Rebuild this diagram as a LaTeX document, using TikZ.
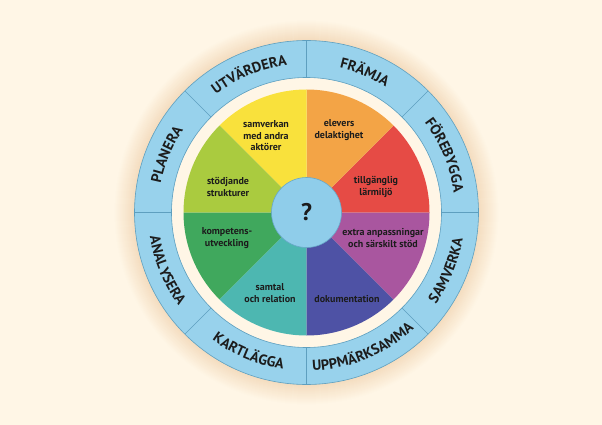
\documentclass[tikz,border=0pt]{standalone}
\usepackage{fontspec}
\setmainfont{PT Sans}
\usetikzlibrary{decorations.text}
\definecolor{bg}{HTML}{FFF6E6}
\definecolor{shadowc}{HTML}{F4DDBF}
\definecolor{ringblue}{HTML}{98D2EC}
\definecolor{ringedge}{HTML}{5E9FBF}
\definecolor{centerblue}{HTML}{8FCDEA}
\definecolor{txt}{HTML}{1C1C1C}
\definecolor{cred}{HTML}{E64B45}
\definecolor{corange}{HTML}{F3A446}
\definecolor{cyellow}{HTML}{F9E13C}
\definecolor{cygreen}{HTML}{AACB3F}
\definecolor{cgreen}{HTML}{40A85D}
\definecolor{cteal}{HTML}{4DB7B1}
\definecolor{cindigo}{HTML}{4E52A5}
\definecolor{cpurple}{HTML}{A9569F}
\newcommand\ringfont{\bfseries\fontsize{14.5}{14.5}\selectfont}
\tikzset{
  wedgetext/.style={align=center, text=txt, font=\bfseries\fontsize{10}{11.5}\selectfont, inner sep=0pt},
  ringlabel/.style={decorate, decoration={text along path, text align=center, text color=txt, text={|\ringfont|#1}}},
}
\begin{document}
\begin{tikzpicture}[x=1pt,y=1pt]
\useasboundingbox (0,0) rectangle (602,-425);
\fill[bg] (0,0) rectangle (602,-425);
\coordinate (C) at (306.5,-212.5);
% soft shadow halo
\foreach \i in {20,19,...,0}{
  \pgfmathtruncatemacro\p{100-5*\i}
  \draw[shadowc!\p!bg, line width=1.4pt] (C) circle[radius=172+\i];
}
% outer ring
\fill[ringblue, even odd rule] (C) circle[radius=172] (C) circle[radius=135];
\draw[ringedge, line width=0.6pt] (C) circle[radius=172];
\draw[ringedge, line width=0.6pt] (C) circle[radius=135];
\foreach \a in {0,45,...,315}{
  \draw[ringedge, line width=0.6pt] (C) ++(\a:135) -- ++(\a:37);
}
% wedges
\foreach \a/\c in {0/cred,45/corange,90/cyellow,135/cygreen,180/cgreen,225/cteal,270/cindigo,315/cpurple}{
  \fill[\c] (C) -- ++(\a:123) arc[start angle=\a, end angle=\a+45, radius=123] -- cycle;
}
% centre
\node[circle, minimum size=70pt, fill=centerblue, draw=ringedge!80!centerblue, line width=0.6pt, inner sep=0pt,
      text=txt, font=\bfseries\fontsize{24}{24}\selectfont] (q) at (C) {?};
% ring labels, upper half (clockwise)
\path[ringlabel=PLANERA]   (C) ++(180:148.5) arc[start angle=180, end angle=135, radius=148.5];
\path[ringlabel=UTVÄRDERA] (C) ++(135:148.5) arc[start angle=135, end angle=90,  radius=148.5];
\path[ringlabel=FRÄMJA]    (C) ++(90:148.5)  arc[start angle=90,  end angle=45,  radius=148.5];
\path[ringlabel=FÖREBYGGA] (C) ++(45:148.5)  arc[start angle=45,  end angle=0,   radius=148.5];
% ring labels, lower half (counter-clockwise)
\path[ringlabel=ANALYSERA]    (C) ++(180:158.5) arc[start angle=180, end angle=225, radius=158.5];
\path[ringlabel=KARTLÄGGA]    (C) ++(225:158.5) arc[start angle=225, end angle=270, radius=158.5];
\path[ringlabel=UPPMÄRKSAMMA] (C) ++(270:158.5) arc[start angle=270, end angle=315, radius=158.5];
\path[ringlabel=SAMVERKA]     (C) ++(315:158.5) arc[start angle=315, end angle=360, radius=158.5];
% wedge texts
\node[wedgetext] (w1) at (266,-136) {samverkan\\med andra\\aktörer};
\node[wedgetext] (w2) at (339,-130) {elevers\\delaktighet};
\node[wedgetext] (w3) at (376,-187) {tillgänglig\\lärmiljö};
\node[wedgetext] (w4) at (228,-187) {stödjande\\strukturer};
\node[wedgetext] (w5) at (227,-238) {kompetens-\\utveckling};
\node[wedgetext] (w6) at (383,-238) {extra anpassningar\\och särskilt stöd};
\node[wedgetext] (w7) at (270,-293) {samtal\\och relation};
\node[wedgetext] (w8) at (347,-299) {dokumentation};
\end{tikzpicture}
\end{document}
